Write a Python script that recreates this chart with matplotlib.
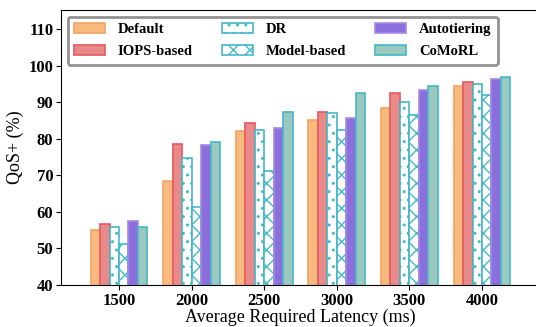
import matplotlib
matplotlib.use("Agg")
import matplotlib.pyplot as plt
import numpy as np

latencies = ["1500", "2000", "2500", "3000", "3500", "4000"]
methods = ["Default", "IOPS-based", "DR", "Model-based", "Autotiering", "CoMoRL"]
default = [55.0, 68.4, 82.2, 85.2, 88.5, 94.5]
iops = [56.6, 78.6, 84.4, 87.4, 92.6, 95.6]
dr = [55.8, 74.8, 82.4, 86.9, 90.1, 95.0]
model = [51.3, 61.4, 71.2, 82.4, 86.6, 91.9]
autotiering = [57.5, 78.4, 82.9, 85.6, 93.3, 96.4]
comorl = [55.8, 79.2, 87.3, 92.4, 94.4, 96.8]

series = [default, iops, dr, model, autotiering, comorl]
faces = ["#F7B97E", "#E88A8A", "white", "white", "#8B6FDD", "#9AC9C0"]
edges = ["#F5A262", "#E8585E", "#44B8C8", "#44B8C8", "#A58BE6", "#44B8C8"]
hatches = [None, None, "..", "xx", None, None]

plt.rcParams['font.family'] = ['Liberation Serif', 'DejaVu Serif']
plt.rcParams['hatch.linewidth'] = 1.0

fig = plt.figure(figsize=(5.36, 3.27), dpi=100)
ax = fig.add_axes([61/536, (327-285)/327, 479/536, 275/327])

x = np.arange(len(latencies))
w = 0.13
for i, (vals, name) in enumerate(zip(series, methods)):
    offs = (i - 2.5) * w
    plt.rcParams['hatch.color'] = edges[i]
    ax.bar(x + offs, vals, w, color=faces[i], edgecolor=edges[i],
           hatch=hatches[i], linewidth=1.2, label=name)

ax.set_xlim(-0.8, 5.8)
ax.set_ylim(40, 115.2)
ax.set_yticks(np.arange(40, 111, 10))
ax.set_xticks(x)
ax.set_xticklabels(latencies)
ax.tick_params(axis='x', pad=2)
ax.tick_params(axis='y', pad=2)
for lbl in ax.get_xticklabels() + ax.get_yticklabels():
    lbl.set_fontweight('bold')
    lbl.set_fontsize(12)
ax.set_xlabel("Average Required Latency (ms)", fontsize=13, labelpad=0)
ax.set_ylabel("QoS+ (%)", fontsize=13, labelpad=3)

leg = ax.legend(ncol=3, loc='upper left', bbox_to_anchor=(0.0, 1.0),
                prop={'weight': 'bold', 'size': 10.5}, frameon=True,
                fancybox=True, handlelength=2.1, handleheight=0.7,
                columnspacing=2.0, handletextpad=0.9, labelspacing=0.6,
                borderpad=0.45, borderaxespad=0.45)
leg.get_frame().set_edgecolor('#777777')
leg.get_frame().set_linewidth(2.0)

fig.savefig("out.png", dpi=100)
